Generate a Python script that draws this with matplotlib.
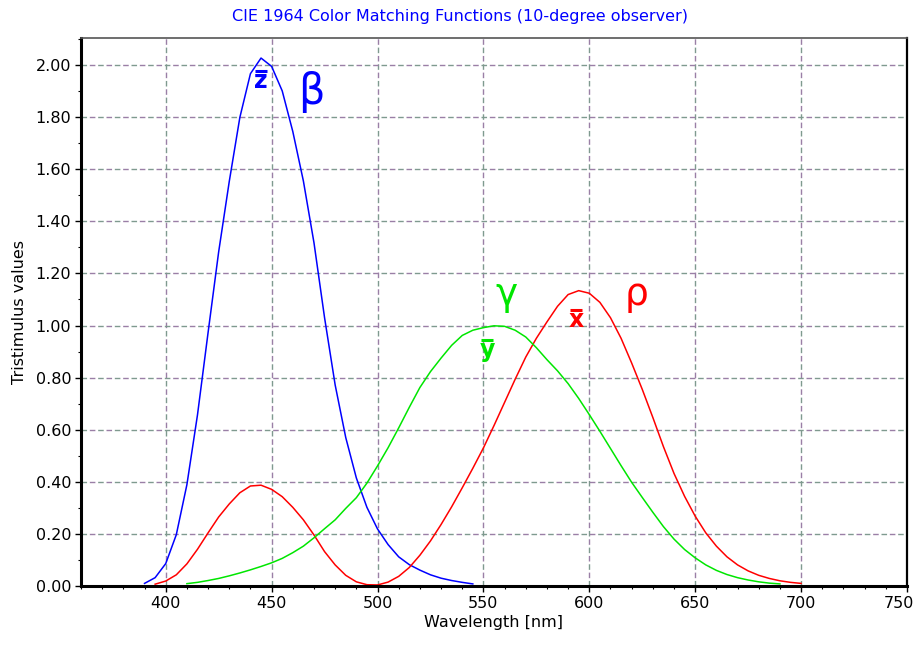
import numpy as np
import matplotlib
matplotlib.use("Agg")
import matplotlib.pyplot as plt
import matplotlib.transforms as mtransforms
from matplotlib.ticker import MultipleLocator, FormatStrFormatter

# CIE 1964 10-degree colour matching functions, 5 nm steps
wl_z = np.arange(390, 550, 5)
z_bar = [0.010, 0.032, 0.086, 0.197, 0.389, 0.657, 0.973, 1.283,
         1.553, 1.799, 1.967, 2.027, 1.995, 1.901, 1.745, 1.555,
         1.318, 1.030, 0.772, 0.570, 0.415, 0.302, 0.219, 0.159,
         0.112, 0.082, 0.061, 0.043, 0.030, 0.021, 0.014, 0.008]

wl_x = np.arange(395, 705, 5)
x_bar = [0.007, 0.019, 0.043, 0.085, 0.141, 0.204, 0.265, 0.315,
         0.358, 0.384, 0.387, 0.371, 0.343, 0.302, 0.254, 0.196,
         0.132, 0.081, 0.041, 0.016, 0.005, 0.004, 0.015, 0.037,
         0.071, 0.118, 0.173, 0.236, 0.304, 0.377, 0.452, 0.530,
         0.616, 0.705, 0.794, 0.879, 0.951, 1.014, 1.074, 1.119,
         1.134, 1.124, 1.089, 1.030, 0.951, 0.856, 0.755, 0.647,
         0.535, 0.432, 0.344, 0.268, 0.204, 0.153, 0.112, 0.081,
         0.058, 0.041, 0.029, 0.020, 0.014, 0.010]

wl_y = np.arange(410, 695, 5)
y_bar = [0.009, 0.014, 0.021, 0.029, 0.039, 0.050, 0.062, 0.075,
         0.089, 0.106, 0.128, 0.153, 0.185, 0.220, 0.254, 0.298,
         0.339, 0.395, 0.461, 0.531, 0.607, 0.686, 0.762, 0.823,
         0.875, 0.924, 0.962, 0.982, 0.992, 0.999, 0.997, 0.982,
         0.956, 0.915, 0.869, 0.826, 0.777, 0.720, 0.658, 0.594,
         0.528, 0.462, 0.398, 0.340, 0.283, 0.228, 0.180, 0.140,
         0.108, 0.081, 0.060, 0.044, 0.032, 0.023, 0.016, 0.011,
         0.008]

x_ticks = [400, 450, 500, 550, 600, 650, 700, 750]
y_ticks = np.arange(0, 2.01, 0.2)

BLUE, RED, GREEN = "#0000ff", "#ff0000", "#00e600"

fig = plt.figure(figsize=(9.19, 6.45), dpi=100)
ax = fig.add_axes([81 / 919, 1 - 586 / 645, 826 / 919, 548 / 645])

# two-colour dashed grid
for xv in x_ticks[:-1]:
    ax.axvline(xv, color="#7f9a8f", lw=1, ls=(0, (4, 8)), zorder=0)
    ax.axvline(xv, color="#9a7fa6", lw=1, ls=(6, (4, 8)), zorder=0)
for yv in y_ticks[1:]:
    ax.axhline(yv, color="#7f9a8f", lw=1, ls=(0, (4, 8)), zorder=0)
    ax.axhline(yv, color="#9a7fa6", lw=1, ls=(6, (4, 8)), zorder=0)

ax.plot(wl_z, z_bar, color=BLUE, lw=1.1)
ax.plot(wl_x, x_bar, color=RED, lw=1.1)
ax.plot(wl_y, y_bar, color=GREEN, lw=1.1)

ax.set_xlim(360, 750)
ax.set_ylim(0, 2.104)
ax.set_xticks(x_ticks)
ax.set_yticks(y_ticks)
ax.yaxis.set_major_formatter(FormatStrFormatter("%.2f"))
ax.xaxis.set_minor_locator(MultipleLocator(10))
ax.yaxis.set_minor_locator(MultipleLocator(0.1))
ax.tick_params(which="major", length=4, width=1, labelsize=11.5, pad=3)
ax.tick_params(which="minor", length=2, width=0.8)

# last x label sits a bit to the left so it stays inside the picture
last = ax.get_xticklabels()[-1]
last.set_transform(last.get_transform() +
                   mtransforms.ScaledTranslation(-8 / 100, 0, fig.dpi_scale_trans))

for s in ["left", "bottom"]:
    ax.spines[s].set_linewidth(2.2)
ax.spines["right"].set_linewidth(1.6)
ax.spines["top"].set_linewidth(1.2)
ax.spines["top"].set_color("#555555")

ax.set_xlabel("Wavelength [nm]", fontsize=11.5, labelpad=3)
ax.set_ylabel("Tristimulus values", fontsize=11.5, labelpad=6)
fig.text(0.5, 1 - 17 / 645, "CIE 1964 Color Matching Functions (10-degree observer)",
         color=BLUE, fontsize=11.5, ha="center", va="center")


# curve labels: bold letter with a bar above it, plus a greek letter
def bar_label(x, y, letter, color):
    ax.text(x, y, letter, color=color, fontsize=17, fontweight="bold",
            ha="center", va="baseline")
    ax.plot([x - 2.8, x + 2.8], [y + 0.066, y + 0.066], color=color,
            lw=2.2, solid_capstyle="butt")


bar_label(445.0, 1.912, "z", BLUE)
bar_label(551.7, 0.879, "y", GREEN)
bar_label(593.7, 0.994, "x", RED)

ax.text(468.6, 1.850, "\u03b2", color=BLUE, fontsize=30, ha="center", va="baseline")
ax.text(560.7, 1.079, "\u03b3", color=GREEN, fontsize=27, ha="center", va="baseline")
ax.text(622.5, 1.079, "\u03c1", color=RED, fontsize=27, ha="center", va="baseline")

fig.savefig("out.png", dpi=100)
